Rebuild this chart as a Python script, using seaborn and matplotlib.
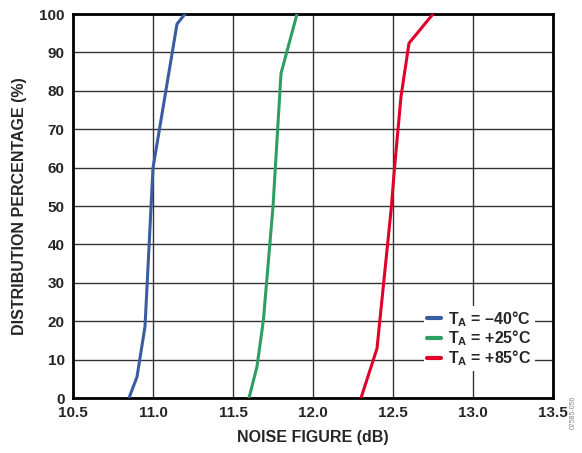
import numpy as np
import pandas as pd
import matplotlib
matplotlib.use("Agg")
import matplotlib.pyplot as plt
import seaborn as sns

# noise figure (dB) vs cumulative distribution (%) per temperature
NF_M40 = [10.85, 10.90, 10.95, 11.00, 11.15, 11.20]
PCT_M40 = [0, 5.5, 18.6, 59.9, 97.4, 100]

NF_P25 = [11.60, 11.65, 11.69, 11.75, 11.80, 11.90]
PCT_P25 = [0, 8.2, 20.3, 49.8, 84.5, 100]

NF_P85 = [12.30, 12.40, 12.49, 12.51, 12.55, 12.60, 12.75]
PCT_P85 = [0, 12.9, 49.8, 60.2, 78.5, 92.4, 100]

LABELS = [r"$\mathbf{T_A}$ = –40°C", r"$\mathbf{T_A}$ = +25°C", r"$\mathbf{T_A}$ = +85°C"]
COLORS = ["#3A5DA0", "#2E9E62", "#E0002A"]

X_TICKS = [10.5, 11.0, 11.5, 12.0, 12.5, 13.0, 13.5]
Y_TICKS = list(range(0, 101, 10))

frames = []
for nf, pct, lab in [(NF_M40, PCT_M40, LABELS[0]),
                     (NF_P25, PCT_P25, LABELS[1]),
                     (NF_P85, PCT_P85, LABELS[2])]:
    frames.append(pd.DataFrame({"nf": nf, "pct": pct, "series": lab}))
df = pd.concat(frames, ignore_index=True)

sns.set_style("white")
plt.rcParams["font.family"] = ["Liberation Sans", "DejaVu Sans"]
plt.rcParams["font.weight"] = "bold"
plt.rcParams["mathtext.fontset"] = "custom"
plt.rcParams["mathtext.rm"] = "Liberation Sans:bold"
plt.rcParams["mathtext.it"] = "Liberation Sans:bold"
plt.rcParams["mathtext.bf"] = "Liberation Sans:bold"

fig = plt.figure(figsize=(5.82, 4.53), dpi=100)
ax = fig.add_axes([73 / 582, 1 - 398 / 453, 480 / 582, 384 / 453])

sns.lineplot(data=df, x="nf", y="pct", hue="series", palette=COLORS,
             sort=False, estimator=None, lw=2.2, ax=ax, zorder=3)

ax.set_xlim(10.5, 13.5)
ax.set_ylim(0, 100)
ax.set_xticks(X_TICKS)
ax.set_yticks(Y_TICKS)
ax.set_xticklabels([f"{v:.1f}" for v in X_TICKS])
ax.tick_params(length=0, labelsize=11, pad=6)
for t in ax.get_xticklabels() + ax.get_yticklabels():
    t.set_fontweight("bold")
ax.grid(True, color="#333333", lw=1.0)
ax.set_axisbelow(True)
for s in ax.spines.values():
    s.set_color("black")
    s.set_linewidth(2)

ax.set_xlabel("NOISE FIGURE (dB)", fontsize=11.5, fontweight="bold", labelpad=7)
ax.set_ylabel("DISTRIBUTION PERCENTAGE (%)", fontsize=11.5, fontweight="bold", labelpad=9)

leg = ax.legend(title=None, loc="lower right", bbox_to_anchor=(0.962, 0.07),
                frameon=True, fontsize=11.5, handlelength=0.9, handletextpad=0.45,
                labelspacing=0.0, borderpad=0.2, borderaxespad=0)
leg.get_frame().set_facecolor("white")
leg.get_frame().set_edgecolor("none")
leg.get_frame().set_alpha(1)
for line in leg.get_lines():
    line.set_linewidth(3)

fig.text(0.985, 0.09, "07585-056", rotation=90, fontsize=5, color="#888888",
         ha="center", va="center", fontweight="normal")

fig.savefig("out.png", dpi=100)
